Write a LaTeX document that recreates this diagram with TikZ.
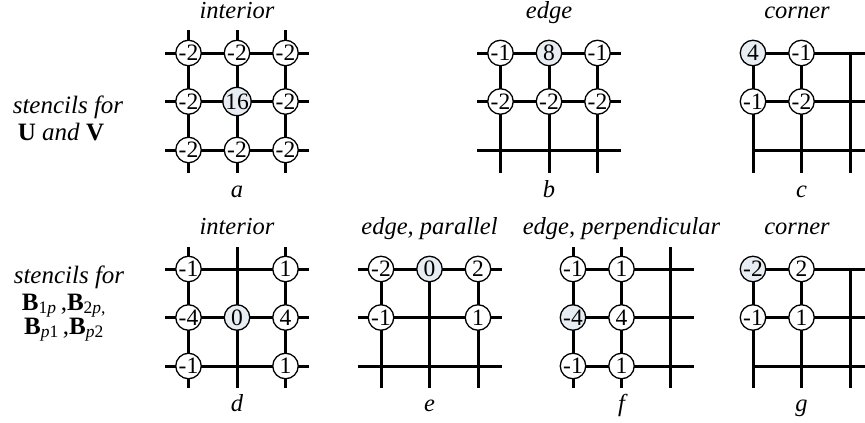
\documentclass[tikz,border=0pt]{standalone}
\usepackage{fontspec}
\setmainfont{Liberation Serif}
\definecolor{ctrfill}{RGB}{231,237,243}
\begin{document}
\begin{tikzpicture}[x=1pt,y=-1pt,
  gridline/.style={line width=3pt},
  st/.style={circle, draw, line width=1.3pt, fill=white, minimum size=25.5pt, inner sep=0pt, font=\fontsize{23.5}{23.5}\selectfont},
  ctr/.style={st, fill=ctrfill},
  lab/.style={anchor=base, inner sep=0pt, font=\fontsize{24.5}{24.5}\selectfont\itshape},
  side/.style={anchor=base, inner sep=0pt, font=\fontsize{25}{25}\selectfont}]
\useasboundingbox (0,0) rectangle (865,423);

% ---------- grid lines ----------
% a
\foreach \x in {188.5,237,285.5} \draw[gridline] (\x,30) -- (\x,173);
\foreach \y in {53,101.5,150} \draw[gridline] (165,\y) -- (309,\y);
% b
\foreach \x in {500.5,549,597.5} \draw[gridline] (\x,53) -- (\x,173);
\foreach \y in {53,101.5,150} \draw[gridline] (477,\y) -- (621,\y);
% c
\foreach \x in {753,801.5,850} \draw[gridline] (\x,53) -- (\x,173);
\foreach \y in {53,101.5,150} \draw[gridline] (753,\y) -- (865,\y);
% d
\foreach \x in {188.5,237,285.5} \draw[gridline] (\x,247) -- (\x,388);
\foreach \y in {269,317.5,366} \draw[gridline] (165,\y) -- (309,\y);
% e
\foreach \x in {381,429.5,478} \draw[gridline] (\x,269) -- (\x,388);
\foreach \y in {269,317.5,366} \draw[gridline] (357.5,\y) -- (501.5,\y);
% f
\foreach \x in {573,621.5,670} \draw[gridline] (\x,247) -- (\x,388);
\foreach \y in {269,317.5,366} \draw[gridline] (573,\y) -- (693.5,\y);
% g
\foreach \x in {753,801.5,850} \draw[gridline] (\x,269) -- (\x,388);
\foreach \y in {269,317.5,366} \draw[gridline] (753,\y) -- (865,\y);

% ---------- stencil nodes ----------
% a
\node[st] (a11) at (188.5,53) {-2};
\node[st] (a12) at (237,53) {-2};
\node[st] (a13) at (285.5,53) {-2};
\node[st] (a21) at (188.5,101.5) {-2};
\node[ctr] (a22) at (237,101.5) {16};
\node[st] (a23) at (285.5,101.5) {-2};
\node[st] (a31) at (188.5,150) {-2};
\node[st] (a32) at (237,150) {-2};
\node[st] (a33) at (285.5,150) {-2};
% b
\node[st] (b11) at (500.5,53) {-1};
\node[ctr] (b12) at (549,53) {8};
\node[st] (b13) at (597.5,53) {-1};
\node[st] (b21) at (500.5,101.5) {-2};
\node[st] (b22) at (549,101.5) {-2};
\node[st] (b23) at (597.5,101.5) {-2};
% c
\node[ctr] (c11) at (753,53) {4};
\node[st] (c12) at (801.5,53) {-1};
\node[st] (c21) at (753,101.5) {-1};
\node[st] (c22) at (801.5,101.5) {-2};
% d
\node[st] (d11) at (188.5,269) {-1};
\node[st] (d13) at (285.5,269) {1};
\node[st] (d21) at (188.5,317.5) {-4};
\node[ctr] (d22) at (237,317.5) {0};
\node[st] (d23) at (285.5,317.5) {4};
\node[st] (d31) at (188.5,366) {-1};
\node[st] (d33) at (285.5,366) {1};
% e
\node[st] (e11) at (381,269) {-2};
\node[ctr] (e12) at (429.5,269) {0};
\node[st] (e13) at (478,269) {2};
\node[st] (e21) at (381,317.5) {-1};
\node[st] (e23) at (478,317.5) {1};
% f
\node[st] (f11) at (573,269) {-1};
\node[st] (f12) at (621.5,269) {1};
\node[ctr] (f21) at (573,317.5) {-4};
\node[st] (f22) at (621.5,317.5) {4};
\node[st] (f31) at (573,366) {-1};
\node[st] (f32) at (621.5,366) {1};
% g
\node[ctr] (g11) at (753,269) {-2};
\node[st] (g12) at (801.5,269) {2};
\node[st] (g21) at (753,317.5) {-1};
\node[st] (g22) at (801.5,317.5) {1};

% ---------- titles ----------
\node[lab] (ta) at (237,19) {interior};
\node[lab] (tb) at (549,19) {edge};
\node[lab] (tc) at (797,19) {corner};
\node[lab] (td) at (237,234) {interior};
\node[lab] (te) at (429.5,234) {edge, parallel};
\node[lab] (tf) at (621.5,234) {edge, perpendicular};
\node[lab] (tg) at (797,234) {corner};

% ---------- letters ----------
\node[lab] (la) at (237,197) {a};
\node[lab] (lb) at (549,197) {b};
\node[lab] (lc) at (801.5,197) {c};
\node[lab] (ld) at (237,411) {d};
\node[lab] (le) at (429.5,411) {e};
\node[lab] (lf) at (621.5,411) {f};
\node[lab] (lg) at (801.5,411) {g};

% ---------- side labels ----------
\node[side] (s1) at (68,113) {\itshape stencils for};
\node[side] (s2) at (61,140) {\textbf{U} \textit{and} \textbf{V}};
\node[side] (s3) at (69,283) {\itshape stencils for};
\node[side] (s4) at (64,310) {\textbf{B}\textsubscript{1\textit{p}}\,,\textbf{B}\textsubscript{2\textit{p},}};
\node[side] (s5) at (64,334) {\textbf{B}\textsubscript{\textit{p}1}\,,\textbf{B}\textsubscript{\textit{p}2}};
\end{tikzpicture}
\end{document}
